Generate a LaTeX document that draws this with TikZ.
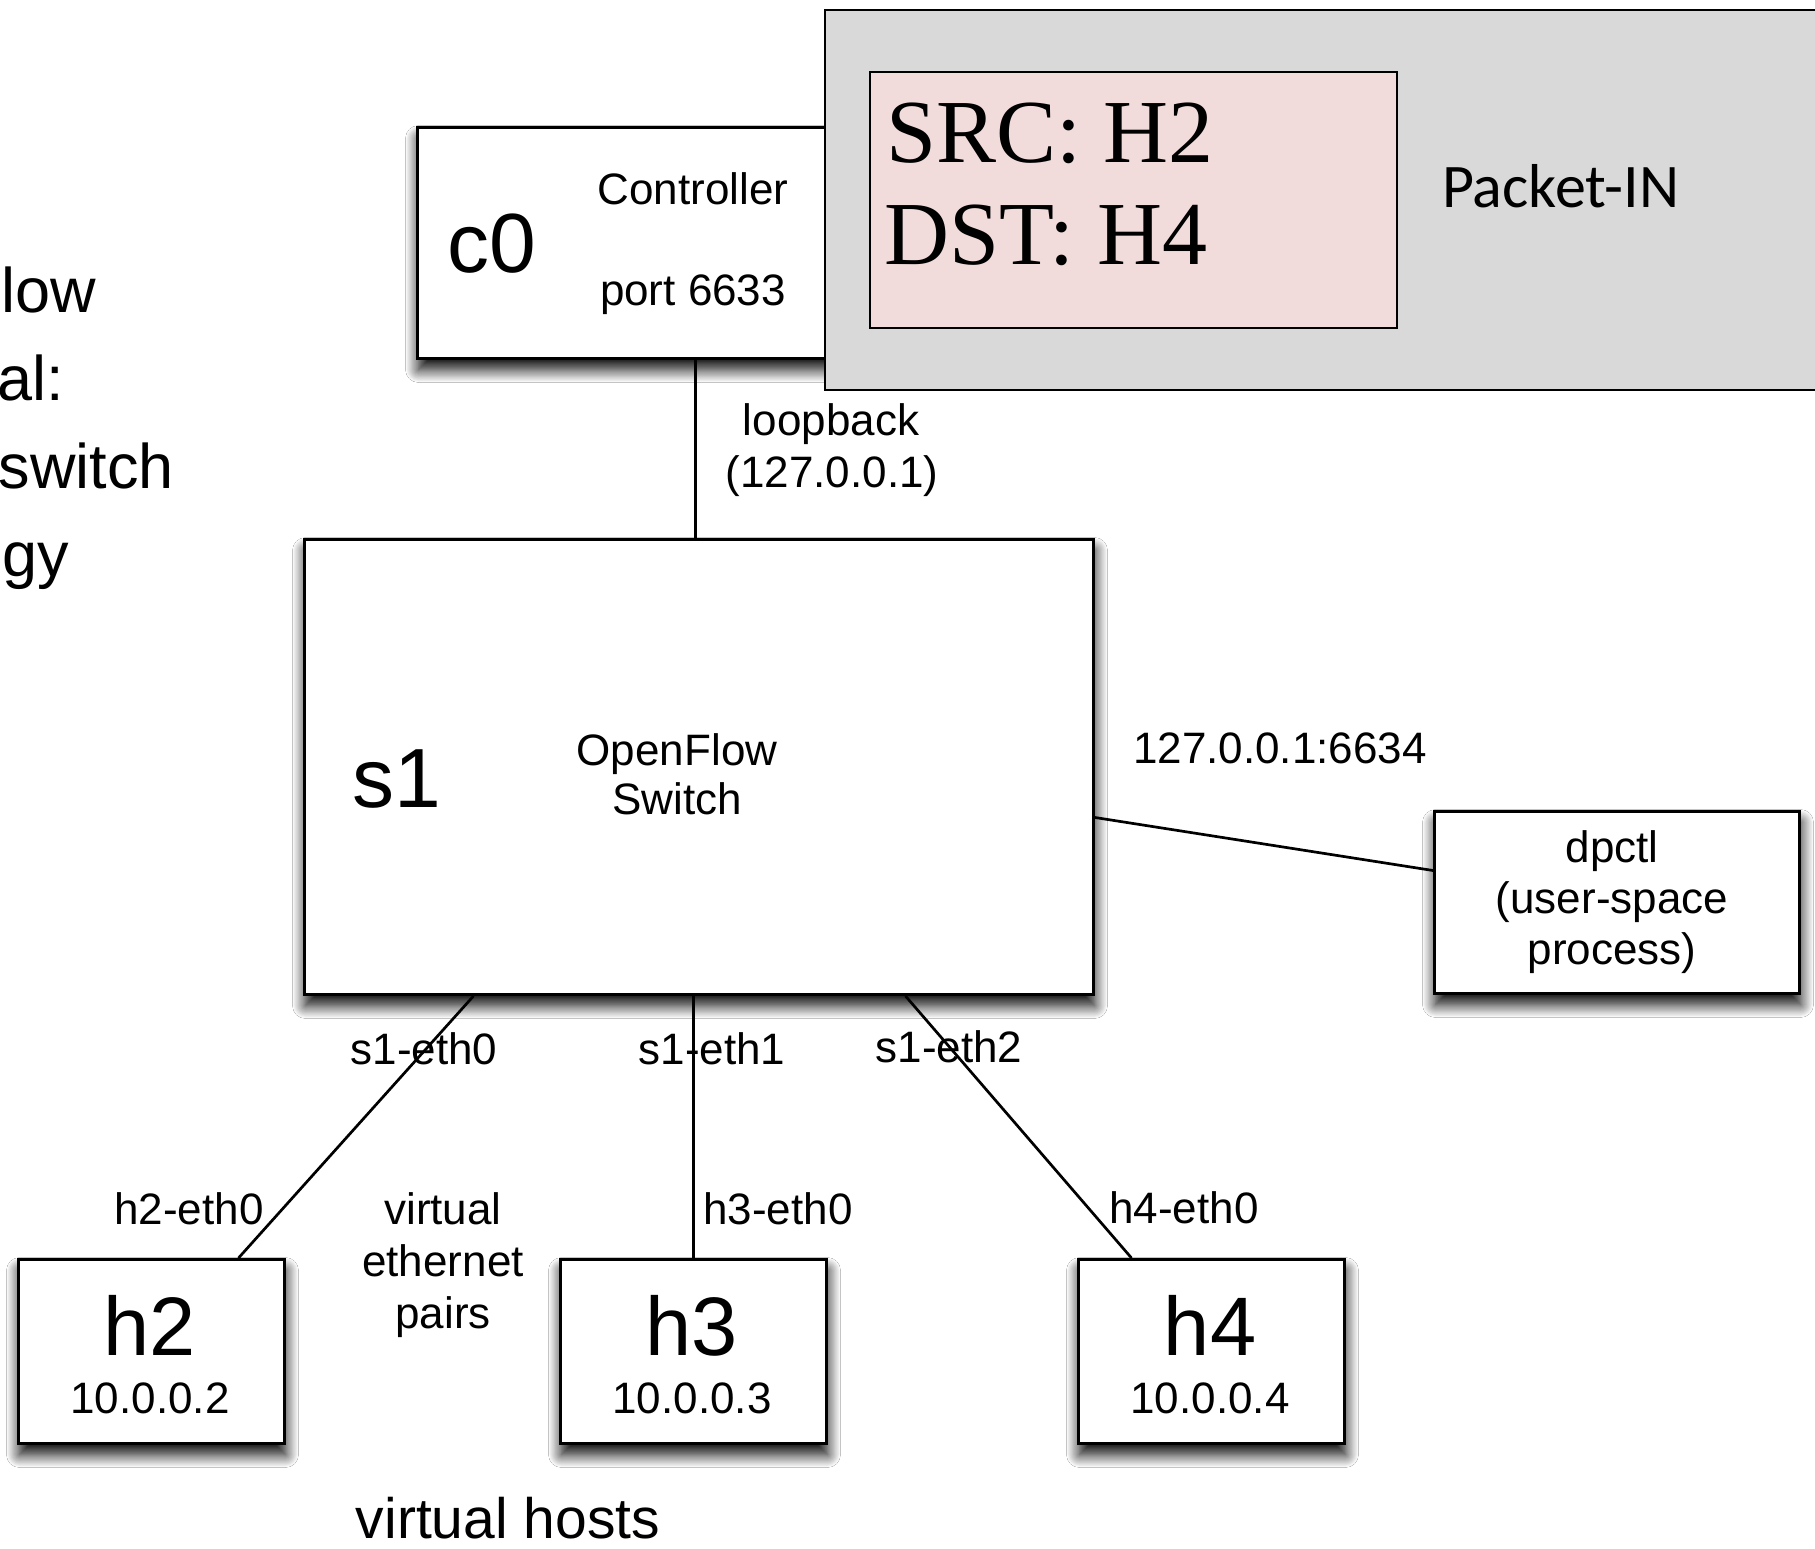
\documentclass[tikz,border=0pt]{standalone}
\usepackage{fontspec}
\setmainfont{Liberation Sans}
\newfontfamily\pktserif{Liberation Serif}
\newfontfamily\pktsans{Carlito}
\usetikzlibrary{shadows.blur}

\definecolor{msgback}{HTML}{D9D9D9}
\definecolor{hdrback}{HTML}{F2DCDB}

\tikzset{
  box/.style={draw=black, line width=3pt, fill=white, inner sep=0pt,
    anchor=north west,
    blur shadow={shadow xshift=1pt, shadow yshift=-11pt,
      shadow blur radius=13pt, shadow blur steps=16, shadow opacity=100}},
  hostbox/.style={box, minimum width=266pt, minimum height=184pt},
  link/.style={draw=black, line width=2.7pt},
  txt/.style={inner sep=0pt, anchor=base, font=\fontsize{44}{51}\selectfont},
  big/.style={inner sep=0pt, anchor=base, font=\fontsize{84}{100}\selectfont},
  side/.style={inner sep=0pt, anchor=base east, font=\fontsize{63}{88}\selectfont},
}

\begin{document}
\begin{tikzpicture}[x=1pt, y=-1pt]
  \useasboundingbox (0,0) rectangle (1815,1549);
  \clip (0,0) rectangle (1815,1549);
  \fill[white] (0,0) rectangle (1815,1549);

  % heading text running off the left edge
  \node[side] (t1) at (96,312) {low};
  \node[side] (t2) at (64,400) {al:};
  \node[side] (t3) at (174,488) {switch};
  \node[side] (t4) at (69,576) {gy};

  % controller
  \node[box, minimum width=556pt, minimum height=231pt] (c0) at (416,126) {};
  \node[big] (c0n) at (492,272) {c0};
  \node[txt] (c0a) at (693,205) {Controller};
  \node[txt] (c0b) at (693,305) {port 6633};

  % switch
  \node[box, minimum width=789pt, minimum height=455pt] (s1) at (303,538) {};
  \node[big] (s1n) at (397,807) {s1};
  \node[txt] (s1a) at (677,765) {OpenFlow};
  \node[txt] (s1b) at (677,814) {Switch};

  % dpctl process
  \node[box, minimum width=365pt, minimum height=182pt] (dp) at (1433,810) {};
  \node[txt] (dpa) at (1612,862) {dpctl};
  \node[txt] (dpb) at (1612,913) {(user-space};
  \node[txt] (dpc) at (1612,964) {process)};

  % hosts
  \node[hostbox] (h2) at (17,1258) {};
  \node[hostbox] (h3) at (559,1258) {};
  \node[hostbox] (h4) at (1077,1258) {};
  \node[big, font=\fontsize{83}{100}\selectfont] (h2n) at (150,1355) {h2};
  \node[txt] (h2ip) at (150,1413) {10.0.0.2};
  \node[big, font=\fontsize{83}{100}\selectfont] (h3n) at (692,1355) {h3};
  \node[txt] (h3ip) at (692,1413) {10.0.0.3};
  \node[big, font=\fontsize{83}{100}\selectfont] (h4n) at (1210,1355) {h4};
  \node[txt] (h4ip) at (1210,1413) {10.0.0.4};

  % links
  \draw[link] (c0.south) -- (c0.south |- s1.north);
  \draw[link] ([yshift=-50.5pt]s1.east) -- ([yshift=32pt]dp.west);
  \draw[link] ([xshift=-225.5pt]s1.south) -- ([xshift=87pt]h2.north);
  \draw[link] ([xshift=-5.5pt]s1.south) -- (h3.north);
  \draw[link] ([xshift=206.5pt]s1.south) -- ([xshift=-80pt]h4.north);

  % link labels
  \node[txt] (lb1) at (831,435) {loopback};
  \node[txt] (lb2) at (832,487) {(127.0.0.1)};
  \node[txt, anchor=base west] (dpl) at (1133,763) {127.0.0.1:6634};
  \node[txt] (e0) at (424,1064) {s1-eth0};
  \node[txt] (e1) at (712,1064) {s1-eth1};
  \node[txt] (e2) at (949,1062) {s1-eth2};
  \node[txt] (h2e) at (189,1224) {h2-eth0};
  \node[txt] (h3e) at (778,1224) {h3-eth0};
  \node[txt] (h4e) at (1184,1223) {h4-eth0};
  \node[txt] (vp1) at (443,1224) {virtual};
  \node[txt] (vp2) at (443,1276) {ethernet};
  \node[txt] (vp3) at (443,1328) {pairs};
  \node[txt, font=\fontsize{57}{68}\selectfont] (vh) at (508,1538) {virtual hosts};

  % Packet-IN message overlay
  \node[draw=black, line width=2pt, fill=msgback, anchor=north west,
        minimum width=1100pt, minimum height=380pt, inner sep=0pt] (pin) at (824,9) {};
  \node[draw=black, line width=2pt, fill=hdrback, anchor=north west,
        minimum width=527pt, minimum height=256pt, inner sep=0pt] (hdr) at (869,71) {};
  \node[inner sep=0pt, anchor=base west, font=\pktserif\fontsize{90}{101}\selectfont] (src) at (886,163) {SRC: H2};
  \node[inner sep=0pt, anchor=base west, font=\pktserif\fontsize{90}{101}\selectfont] (dst) at (884,264) {DST: H4};
  \node[inner sep=0pt, anchor=base west, font=\pktsans\fontsize{62}{74}\selectfont] (pkt) at (1442,208) {Packet-IN};
\end{tikzpicture}
\end{document}
